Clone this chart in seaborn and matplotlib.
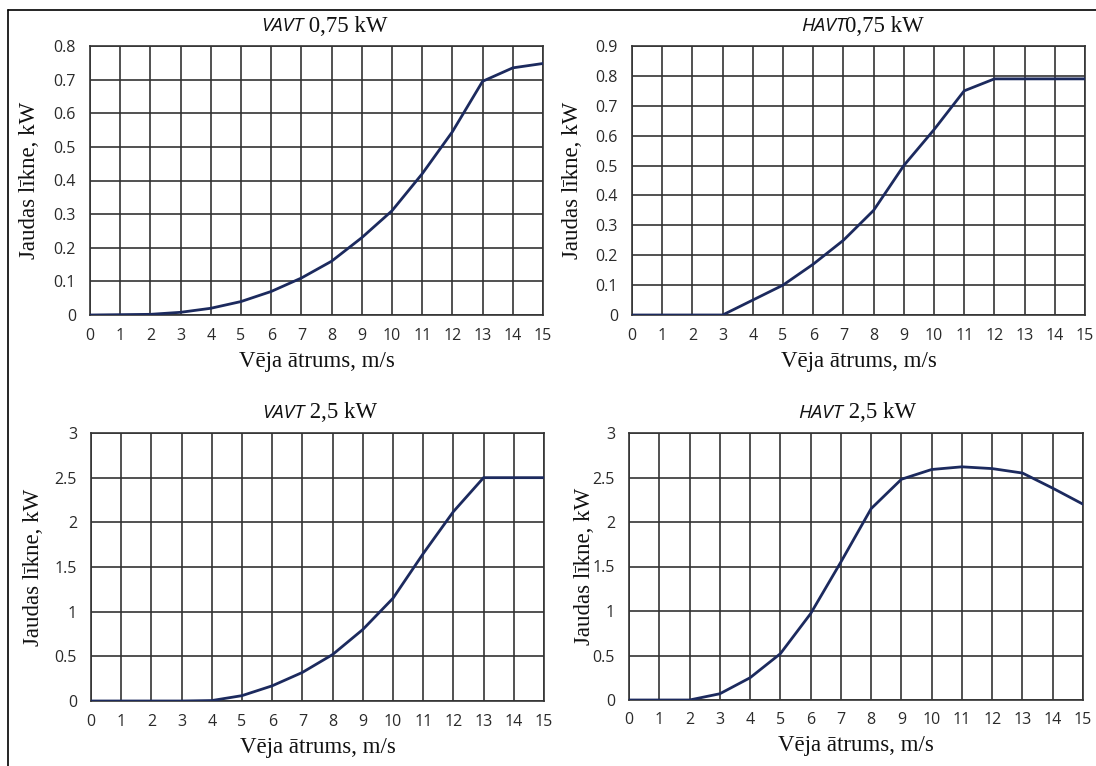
import matplotlib
matplotlib.use("Agg")
import matplotlib.pyplot as plt
import seaborn as sns
import pandas as pd
from matplotlib.lines import Line2D

speed = list(range(16))
vavt_075 = [0, 0.001, 0.002, 0.008, 0.02, 0.04, 0.07, 0.11, 0.16, 0.23, 0.31, 0.42, 0.545, 0.695, 0.735, 0.748]
havt_075 = [0, 0, 0, 0, 0.05, 0.10, 0.17, 0.25, 0.35, 0.50, 0.62, 0.75, 0.79, 0.79, 0.79, 0.79]
vavt_25 = [0, 0, 0, 0, 0.005, 0.06, 0.17, 0.32, 0.52, 0.80, 1.15, 1.65, 2.12, 2.50, 2.50, 2.50]
havt_25 = [0, 0, 0, 0.07, 0.25, 0.52, 0.97, 1.55, 2.15, 2.48, 2.59, 2.62, 2.60, 2.55, 2.38, 2.20]

titles_italic = ["VAVT", "HAVT", "VAVT", "HAVT"]
titles_rest = [" 0,75 kW", "0,75 kW", " 2,5 kW", " 2,5 kW"]
y_max = [0.8, 0.9, 3, 3]
y_step = [0.1, 0.1, 0.5, 0.5]
x_label = "Vēja ātrums, m/s"
y_label = "Jaudas līkne, kW"

sns.set_theme(style="white")
plt.rcParams['font.family'] = ['Open Sans', 'DejaVu Sans']

fig = plt.figure(figsize=(10.96, 7.66), dpi=100)

positions = [
    (90, 543, 46, 315),
    (632, 1085, 46, 315),
    (91, 544, 433, 701),
    (629, 1083, 433, 700),
]
ylab_x = [30, 572, 34, 585]
series = [vavt_075, havt_075, vavt_25, havt_25]
W, H = 1096, 766
line_col = "#1c2a5e"
grid_col = "#333333"

for i, (l, r, t, b) in enumerate(positions):
    ax = fig.add_axes([l / W, 1 - b / H, (r - l) / W, (b - t) / H])
    df = pd.DataFrame({"speed": speed, "power": series[i]})
    sns.lineplot(data=df, x="speed", y="power", ax=ax, color=line_col, linewidth=2.0, zorder=5)
    ax.set_xlim(0, 15)
    ax.set_ylim(0, y_max[i])
    ax.set_xticks(speed)
    n = int(round(y_max[i] / y_step[i]))
    yt = [round(k * y_step[i], 2) for k in range(n + 1)]
    ax.set_yticks(yt)
    ax.set_yticklabels([("%g" % v) for v in yt])
    ax.grid(True, color=grid_col, linewidth=1.2)
    for s in ax.spines.values():
        s.set_color(grid_col)
        s.set_linewidth(1.2)
    ax.tick_params(axis="x", length=4, width=1, color=grid_col, pad=5, labelsize=11.5, labelcolor="#2a2a2a")
    ax.tick_params(axis="y", length=0, pad=10, labelsize=11.5, labelcolor="#2a2a2a")
    ax.set_xlabel("")
    ax.set_ylabel("")
    cx = (l + r) / 2 / W
    fig.text(cx, 1 - (b + 46) / H, x_label, ha="center", va="center",
             family="Liberation Serif", fontsize=16.5, color="#111111")
    fig.text(ylab_x[i] / W, 1 - (t + b) / 2 / H, y_label, ha="center", va="center",
             rotation=90, family="Liberation Serif", fontsize=16.5, color="#111111")
    ty = 1 - (t - 20) / H
    fig.text(cx - 0.012, ty, titles_italic[i], ha="right", va="center",
             family="Open Sans", style="italic", fontsize=14, color="#111111")
    fig.text(cx - 0.012, ty, titles_rest[i], ha="left", va="center",
             family="Liberation Serif", fontsize=16.5, color="#111111")

fig.add_artist(Line2D([8 / W, 8 / W], [0, 1 - 10 / H], transform=fig.transFigure, color="black", linewidth=1.2))
fig.add_artist(Line2D([8 / W, 1], [1 - 10 / H, 1 - 10 / H], transform=fig.transFigure, color="black", linewidth=1.2))

fig.savefig("out.png", dpi=100, facecolor="white")
